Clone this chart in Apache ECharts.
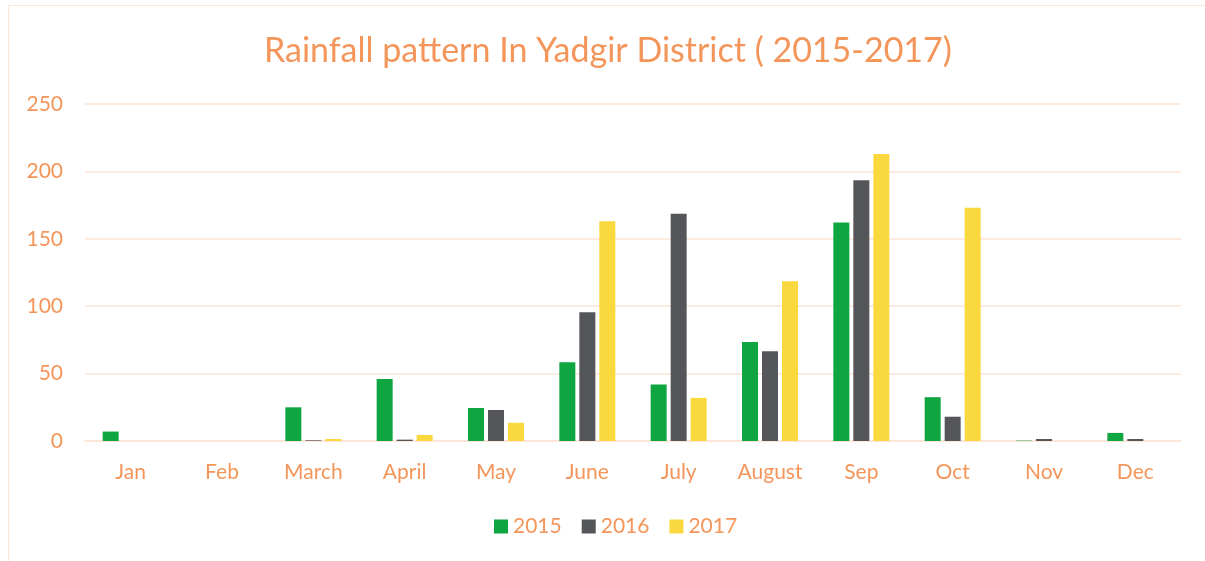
<!DOCTYPE html>
<html>
<head>
<meta charset="utf-8">
<title>Rainfall pattern In Yadgir District</title>
<script src="https://cdn.jsdelivr.net/npm/echarts@6/dist/echarts.min.js"></script>
<style>
	html, body { margin: 0; padding: 0; background: #fff; }
	#frame {
		position: absolute; left: 8px; top: 5px;
		width: 1220px; height: 580px;
		border: 1.5px solid #fde5d6;
	}
	#chart { position: absolute; left: 0; top: 0; width: 1205px; height: 561px; }
</style>
</head>
<body>
<div id="frame"></div>
<div id="chart"></div>
<script>
	// rainfall (mm)
	const months = ['Jan', 'Feb', 'March', 'April', 'May', 'June', 'July', 'August', 'Sep', 'Oct', 'Nov', 'Dec']
	const rain2015 = [7, 0, 25, 46, 24.5, 58.5, 42, 73.5, 162, 32.5, 0.3, 6]
	const rain2016 = [0, 0, 0.5, 1, 23, 95.5, 168.5, 66.5, 193.5, 18, 1.5, 1.5]
	const rain2017 = [0, 0, 1.5, 4.5, 13.5, 163, 32, 118.5, 213, 173, 0, 0]
	const yTicks = [0, 50, 100, 150, 200, 250]

	const orange = '#f4955a'
	const font = 'Lato, "Open Sans", sans-serif'

	let myChart = echarts.init(document.getElementById('chart'))

	function bar (name, data, color) {
		return {
			name: name,
			type: 'bar',
			data: data,
			barWidth: 16,
			barGap: '25%',
			itemStyle: {
				color: color
			}
		}
	}

	myChart.setOption({
		animation: false,
		title: {
			text: 'Rainfall pattern In Yadgir District ( 2015-2017)',
			left: 259,
			top: 29,
			textStyle: {
				color: orange,
				fontSize: 34,
				fontWeight: 'normal',
				fontFamily: font
			}
		},
		grid: {
			left: 85,
			right: 24,
			top: 104,
			bottom: 120,
			containLabel: false
		},
		legend: {
			bottom: 19,
			left: 489,
			itemWidth: 14,
			itemHeight: 14,
			itemGap: 20,
			icon: 'rect',
			textStyle: {
				color: orange,
				fontSize: 21,
				fontFamily: font
			},
			data: ['2015', '2016', '2017']
		},
		xAxis: [{
			type: 'category',
			data: months,
			axisTick: { show: false },
			axisLine: { lineStyle: { color: '#fde5d6', width: 1.5 } },
			axisLabel: {
				color: orange,
				fontSize: 21,
				fontFamily: font,
				margin: 21
			}
		}],
		yAxis: [{
			type: 'value',
			min: yTicks[0],
			max: yTicks[yTicks.length - 1],
			interval: 50,
			axisTick: { show: false },
			axisLine: { show: false },
			splitLine: { lineStyle: { color: '#fde5d6', width: 1.5 } },
			axisLabel: {
				color: orange,
				fontSize: 21,
				fontFamily: font,
				margin: 22
			}
		}],
		series: [
			bar('2015', rain2015, '#0fa541'),
			bar('2016', rain2016, '#55565a'),
			bar('2017', rain2017, '#f9d93d')
		]
	})
</script>
</body>
</html>
